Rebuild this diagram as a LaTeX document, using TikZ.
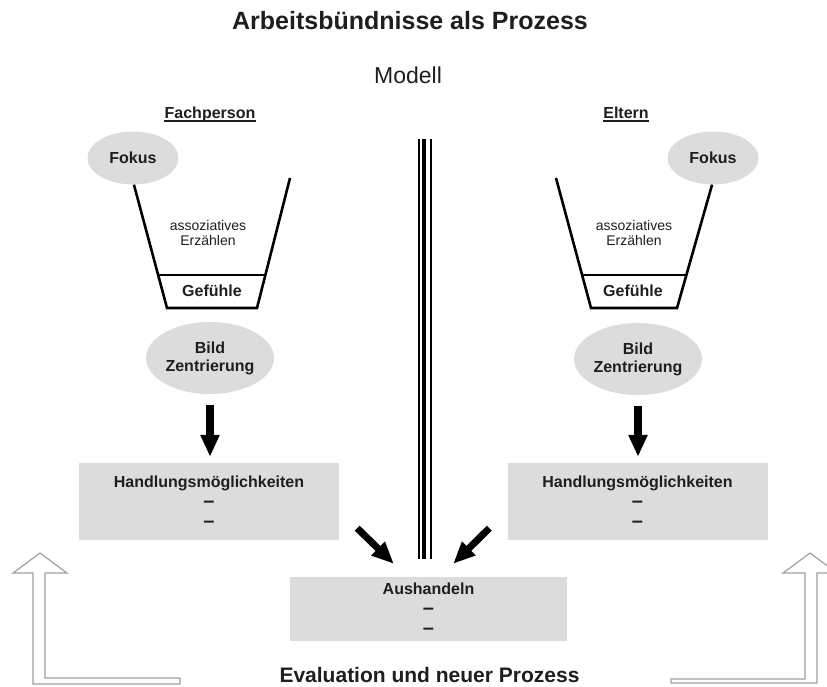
\documentclass[tikz,border=0pt]{standalone}
\usepackage{fontspec}
\setmainfont{Liberation Sans}
\usetikzlibrary{shapes.geometric,arrows.meta}
\definecolor{boxgray}{HTML}{DCDCDC}
\definecolor{outlinegray}{HTML}{A0A0A0}
\definecolor{ink}{HTML}{1E1E1E}
\newcommand{\strich}{{\fontsize{20}{20}\selectfont –}}
\begin{document}
\begin{tikzpicture}[x=1pt,y=-1pt,
  every node/.style={text=ink},
  lbl/.style={font=\bfseries\fontsize{16}{20}\selectfont, align=center},
  bubble/.style={ellipse, fill=boxgray, inner sep=0pt, lbl},
  box/.style={rectangle, fill=boxgray, lbl, minimum width=260pt, minimum height=77pt},
  funnel/.style={line width=2.6pt, line join=miter},
  fat/.style={line width=8pt, -{Triangle[length=22pt,width=18pt]}},
  hollow/.style={draw=outlinegray, line width=1.2pt}]
  \clip (0,0) rectangle (827,686);

  \node[font=\bfseries\fontsize{25}{30}\selectfont, anchor=base] (title) at (410,29) {Arbeitsbündnisse als Prozess};
  \node[font=\fontsize{23}{28}\selectfont, anchor=base] (modell) at (408,83) {Modell};
  \node[lbl, anchor=base, inner xsep=0pt] (fach) at (210,118) {Fachperson};
  \node[lbl, anchor=base, inner xsep=0pt] (eltern) at (626,118) {Eltern};
  \draw[line width=1.3pt, ink] ([yshift=-3pt]fach.base west) -- ([yshift=-3pt]fach.base east);
  \draw[line width=1.3pt, ink] ([yshift=-3pt]eltern.base west) -- ([yshift=-3pt]eltern.base east);

  \node[bubble, minimum width=91pt, minimum height=53pt] (fokusL) at (133,158) {Fokus};
  \node[bubble, minimum width=91pt, minimum height=53pt] (fokusR) at (713,158) {Fokus};

  \draw[funnel] (fokusL.-88) -- (167,308) -- (257,308) -- (290,178);
  \draw[funnel] (158,275) -- (265,275);
  \draw[funnel] (556,178) -- (591,308) -- (677,308) -- (fokusR.-92);
  \draw[funnel] (582,275) -- (686,275);

  \node[font=\fontsize{14}{15}\selectfont, align=center] (assozL) at (208,233) {assoziatives\\Erzählen};
  \node[font=\fontsize{14}{15}\selectfont, align=center] (assozR) at (634,233) {assoziatives\\Erzählen};
  \node[lbl, anchor=base] (gefL) at (212,296) {Gefühle};
  \node[lbl, anchor=base] (gefR) at (633,296) {Gefühle};

  \node[bubble, minimum width=128pt, minimum height=72pt, font=\bfseries\fontsize{16}{18}\selectfont] (bildL) at (210,358) {Bild\\Zentrierung};
  \node[bubble, minimum width=128pt, minimum height=72pt, font=\bfseries\fontsize{16}{18}\selectfont] (bildR) at (638,359) {Bild\\Zentrierung};

  \node[box] (handL) at (209,501.5) {Handlungsmöglichkeiten\\\strich\\\strich};
  \node[box] (handR) at (637.5,501.5) {Handlungsmöglichkeiten\\\strich\\\strich};
  \node[box, minimum width=277pt, minimum height=64pt] (aush) at (428.5,609) {Aushandeln\\\strich\\\strich};
  \node[font=\bfseries\fontsize{21}{25}\selectfont, anchor=base] (eval) at (429.5,682) {Evaluation und neuer Prozess};

  \draw[fat, shorten <=11pt, shorten >=6pt] (bildL.south) -- (bildL.south |- handL.north);
  \draw[fat, shorten <=11pt, shorten >=6pt] (bildR.south) -- (bildR.south |- handR.north);
  \draw[fat, line width=7pt] ([xshift=18pt,yshift=12pt]handL.south east) -- ([xshift=104pt,yshift=13pt]aush.north west);
  \draw[fat, line width=7pt] ([xshift=-18pt,yshift=12pt]handR.south west) -- ([xshift=-114pt,yshift=13pt]aush.north east);

  \foreach \x/\w in {418.5/2pt, 424/3.5pt, 430.5/2pt}
    \draw[line width=\w] (\x,139) -- (\x,559);

  \draw[hollow] (180,678) -- (45,678) -- (45,573) -- (67,573) -- (40,553) -- (13,573) -- (33,573) -- (33,684) -- (180,684) -- cycle;
  \draw[hollow] (671,679) -- (805,679) -- (805,573) -- (783,573) -- (810,553) -- (837,573) -- (817,573) -- (817,683) -- (671,683) -- cycle;
\end{tikzpicture}
\end{document}
